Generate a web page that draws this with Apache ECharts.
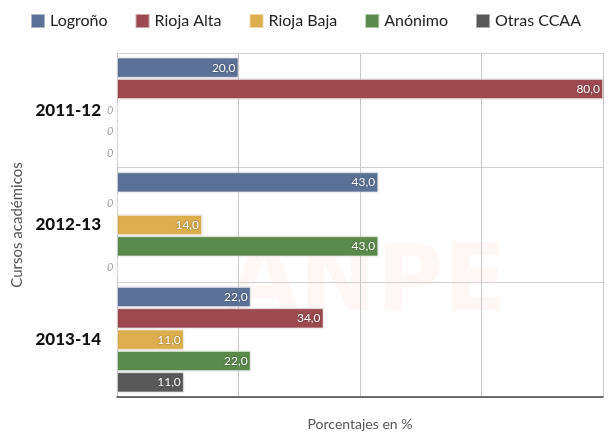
<!DOCTYPE html>
<html>
<head>
<meta charset="utf-8">
<script src="https://cdn.jsdelivr.net/npm/echarts@6/dist/echarts.min.js"></script>
<style>
  html, body { margin: 0; padding: 0; background: #fff; }
  #chart { width: 611px; height: 436px; }
</style>
</head>
<body>
<div id="chart"></div>
<script>
// Courses (top to bottom)
const cursos = ["2011-12", "2012-13", "2013-14"];

// Percentages per origin, one value per course
const logrono = [20, 43, 22];
const riojaAlta = [80, 0, 34];
const riojaBaja = [0, 14, 11];
const anonimo = [0, 43, 22];
const otrasCCAA = [0, 0, 11];

const seriesNames = ["Logroño", "Rioja Alta", "Rioja Baja", "Anónimo", "Otras CCAA"];
const seriesValues = [logrono, riojaAlta, riojaBaja, anonimo, otrasCCAA];
const colors = ["#5b7196", "#9c4a50", "#dcae4e", "#5a8a4c", "#595959"];

const xTicks = [0, 20, 40, 60, 80];

const chart = echarts.init(document.getElementById("chart"));

const fmt = (v) => v.toFixed(1).replace(".", ",");

// zero values get a gray "0" left of the axis, others a white label inside the bar
function toData(values) {
  return values.map((v) =>
    v === 0
      ? {
          value: v,
          label: {
            position: "left",
            distance: 3,
            color: "#a0a0a0",
            fontStyle: "italic",
            fontSize: 11,
            textShadowBlur: 0,
            formatter: "0",
          },
        }
      : { value: v }
  );
}

chart.setOption({
  backgroundColor: "#fff",
  animation: false,
  textStyle: { fontFamily: "Lato, 'Open Sans', sans-serif" },
  graphic: [
    {
      type: "text",
      left: 228,
      top: 240,
      z: -10,
      silent: true,
      style: {
        text: "ANPE",
        fontSize: 92,
        fontWeight: "bold",
        fontFamily: "'DejaVu Sans', sans-serif",
        fill: "rgba(230,120,110,0.06)",
      },
    },
  ],
  legend: {
    top: 8,
    left: "center",
    icon: "rect",
    itemWidth: 14,
    itemHeight: 14,
    itemGap: 27,
    textStyle: { fontSize: 16, color: "#222", fontFamily: "Lato, sans-serif" },
    data: seriesNames,
  },
  grid: { left: 117, right: 8, top: 53, bottom: 34 },
  xAxis: {
    type: "value",
    min: xTicks[0],
    max: xTicks[xTicks.length - 1],
    interval: 20,
    name: "Porcentajes en %",
    nameLocation: "middle",
    nameGap: 20,
    nameTextStyle: { fontSize: 14, color: "#555" },
    axisLabel: { show: false },
    axisTick: { show: false },
    axisLine: { show: true, lineStyle: { color: "#444", width: 1.5 } },
    splitLine: { show: true, lineStyle: { color: "#c8c8c8" } },
  },
  yAxis: {
    type: "category",
    inverse: true,
    data: cursos,
    name: "Cursos académicos",
    nameLocation: "middle",
    nameGap: 92,
    nameTextStyle: { fontSize: 15, color: "#555" },
    axisLabel: {
      fontSize: 17,
      fontWeight: 900,
      color: "#111",
      margin: 16,
      fontFamily: "Lato, sans-serif",
    },
    axisTick: { show: false },
    axisLine: { show: false },
    splitLine: { show: true, lineStyle: { color: "#d0d0d0" } },
  },
  series: seriesNames.map((name, i) => ({
    name,
    type: "bar",
    data: toData(seriesValues[i]),
    barGap: "6%",
    barCategoryGap: "8%",
    itemStyle: {
      color: colors[i],
      borderColor: "rgba(255,255,255,0.5)",
      borderWidth: 1,
      shadowColor: "rgba(0,0,0,0.15)",
      shadowBlur: 2,
    },
    label: {
      show: true,
      position: "insideRight",
      distance: 3,
      color: "#fff",
      fontSize: 12,
      textShadowColor: "rgba(0,0,0,0.5)",
      textShadowBlur: 2,
      formatter: (p) => fmt(p.value),
    },
  })),
});
</script>
</body>
</html>
